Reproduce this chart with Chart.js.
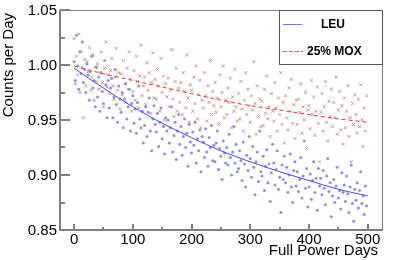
<!DOCTYPE html>
<html>
<head>
<meta charset="utf-8">
<script src="https://cdn.jsdelivr.net/npm/chart.js@4/dist/chart.umd.min.js"></script>
<style>
html,body{margin:0;padding:0;background:#fff;}
#wrap{width:399px;height:260px;}
</style>
</head>
<body>
<div id="wrap"><canvas id="c" width="399" height="260"></canvas></div>
<script>
// ---- data ----
const leuValues = [
1.003,0.986,1.027,0.999,0.978,1.012,0.992,1.021,0.984,0.996,
0.975,1.001,0.991,0.968,0.994,1.008,0.979,0.986,0.962,0.998,
0.971,0.989,0.958,0.993,0.976,0.965,1.004,0.982,0.952,0.986,
0.961,0.979,0.988,0.952,0.971,0.996,0.964,0.948,0.981,0.969,
0.957,0.975,0.943,0.969,0.983,0.951,0.962,0.978,0.940,0.965,
0.972,0.947,0.960,0.938,0.966,0.981,0.951,0.943,0.958,0.929,
0.945,0.962,0.935,0.957,0.970,0.940,0.922,0.951,0.963,0.946,
0.939,0.956,0.926,0.948,0.961,0.933,0.944,0.919,0.952,0.940,
0.950,0.929,0.943,0.962,0.921,0.936,0.948,0.914,0.940,0.955,
0.928,0.944,0.918,0.935,0.951,0.925,0.938,0.908,0.946,0.930,
0.920,0.939,0.927,0.948,0.911,0.933,0.922,0.941,0.903,0.935,
0.930,0.916,0.942,0.921,0.908,0.934,0.925,0.945,0.913,0.927,
0.912,0.929,0.940,0.905,0.924,0.917,0.896,0.931,0.920,0.911,
0.925,0.909,0.937,0.916,0.900,0.921,0.944,0.911,0.928,0.903,
0.906,0.922,0.913,0.895,0.930,0.910,0.889,0.918,0.904,0.935,
0.915,0.898,0.926,0.907,0.882,0.912,0.921,0.894,0.940,0.903,
0.899,0.917,0.886,0.908,0.923,0.893,0.910,0.876,0.902,0.928,
0.911,0.891,0.905,0.922,0.887,0.898,0.866,0.909,0.896,0.917,
0.893,0.907,0.884,0.900,0.919,0.889,0.875,0.904,0.912,0.890,
0.903,0.885,0.896,0.916,0.879,0.899,0.931,0.888,0.906,0.871,
0.889,0.901,0.878,0.895,0.912,0.884,0.897,0.868,0.906,0.890,
0.897,0.882,0.904,0.888,0.873,0.899,0.915,0.885,0.893,0.862,
0.881,0.896,0.875,0.890,0.907,0.879,0.886,0.869,0.902,0.884,
0.891,0.876,0.899,0.883,0.866,0.889,0.909,0.874,0.858,0.887,
0.877,0.893,0.870,0.886,0.903,0.874,0.881,0.864,0.890,0.872
];
const moxValues = [
1.024,0.983,1.008,0.991,1.028,0.975,1.012,0.998,0.952,1.005,
0.981,1.003,0.994,1.016,0.977,0.989,1.009,0.968,0.998,0.985,
1.001,0.978,0.993,1.012,0.984,0.962,0.997,1.021,0.980,0.991,
0.974,0.995,1.006,0.981,0.969,0.989,1.015,0.977,0.993,0.960,
0.992,0.973,1.004,0.983,0.966,0.997,0.978,1.012,0.987,0.958,
0.976,0.995,0.968,1.008,0.985,0.961,0.990,1.018,0.972,0.981,
0.989,0.964,1.002,0.977,0.993,0.956,0.984,1.011,0.970,0.987,
0.969,0.996,0.981,0.958,1.006,0.975,0.990,0.950,0.983,0.971,
0.988,0.962,0.977,1.014,0.969,0.953,0.985,0.997,0.958,0.979,
0.966,0.984,0.955,0.993,0.976,0.961,1.009,0.970,0.948,0.982,
0.977,0.958,0.989,0.965,0.999,0.951,0.973,0.986,0.943,0.968,
0.961,0.993,0.972,0.949,0.981,0.966,1.004,0.955,0.976,0.963,
0.984,0.957,0.970,0.946,0.991,0.962,0.975,0.999,0.952,0.968,
0.955,0.979,0.966,0.988,0.943,0.971,0.958,0.996,0.962,0.949,
0.974,0.951,0.985,0.960,0.940,0.968,0.993,0.955,0.978,0.963,
0.948,0.972,0.959,1.003,0.965,0.937,0.981,0.953,0.969,0.944,
0.967,0.945,0.978,0.956,0.990,0.951,0.962,0.935,0.974,0.958,
0.949,0.984,0.961,0.940,0.970,0.955,0.993,0.946,0.966,0.929,
0.972,0.952,0.941,0.979,0.958,0.987,0.947,0.964,0.933,0.968,
0.946,0.969,0.957,0.983,0.938,0.962,0.950,0.975,0.924,0.959,
0.963,0.942,0.986,0.955,0.971,0.936,0.958,0.980,0.947,0.912,
0.957,0.974,0.940,0.962,0.985,0.948,0.931,0.967,0.953,0.978,
0.944,0.966,0.952,0.989,0.937,0.959,0.976,0.941,0.963,0.928,
0.970,0.943,0.958,0.981,0.935,0.952,0.912,0.965,0.946,0.973,
0.955,0.938,0.969,0.944,0.982,0.950,0.926,0.961,0.940,0.972
];
const days = leuValues.map((_, i) => i * 2);
const fitDays = [0, 50, 100, 150, 200, 250, 300, 350, 400, 450, 500];
const leuFit = [0.997, 0.979, 0.962, 0.947, 0.934, 0.922, 0.912, 0.903, 0.895, 0.887, 0.881];
const moxFit = [0.999, 0.992, 0.986, 0.980, 0.974, 0.968, 0.963, 0.959, 0.955, 0.951, 0.948];
const xMajor = [0, 100, 200, 300, 400, 500];
const xMinor = [50, 150, 250, 350, 450];
const yMajor = [0.85, 0.90, 0.95, 1.00, 1.05];
const yMinor = [0.875, 0.925, 0.975, 1.025];
const seriesNames = ['LEU', '25% MOX'];

const pts = (xs, ys) => xs.map((x, i) => ({x, y: ys[i]}));

const axesPlugin = {
  id: 'rootAxes',
  afterDraw(chart) {
    const {ctx, chartArea: a, scales: {x, y}} = chart;
    ctx.save();
    const gray = '#7f7f7f';
    // frame
    ctx.strokeStyle = gray;
    ctx.lineWidth = 1;
    ctx.beginPath();
    ctx.moveTo(a.left, a.top + 0.5);
    ctx.lineTo(a.right - 0.5, a.top + 0.5);
    ctx.lineTo(a.right - 0.5, a.bottom);
    ctx.stroke();
    ctx.lineWidth = 2;
    ctx.beginPath();
    ctx.moveTo(a.left, a.top);
    ctx.lineTo(a.left, a.bottom);
    ctx.lineTo(a.right, a.bottom);
    ctx.stroke();
    // ticks
    ctx.lineWidth = 2;
    ctx.beginPath();
    yMajor.forEach(v => { const py = Math.round(y.getPixelForValue(v)); ctx.moveTo(a.left, py); ctx.lineTo(a.left + 10, py); });
    yMinor.forEach(v => { const py = Math.round(y.getPixelForValue(v)); ctx.moveTo(a.left, py); ctx.lineTo(a.left + 5, py); });
    xMajor.forEach(v => { const px = Math.round(x.getPixelForValue(v)); ctx.moveTo(px, a.bottom); ctx.lineTo(px, a.bottom - 6); });
    xMinor.forEach(v => { const px = Math.round(x.getPixelForValue(v)); ctx.moveTo(px, a.bottom); ctx.lineTo(px, a.bottom - 3); });
    ctx.stroke();
    // labels
    ctx.fillStyle = '#000';
    ctx.font = '15px "Liberation Sans", Arial, sans-serif';
    ctx.textAlign = 'right';
    ctx.textBaseline = 'middle';
    yMajor.forEach(v => ctx.fillText(v.toFixed(2), a.left - 3, y.getPixelForValue(v) + 1));
    ctx.textAlign = 'center';
    xMajor.forEach(v => ctx.fillText(String(v), x.getPixelForValue(v), a.bottom + 10));
    ctx.textAlign = 'right';
    ctx.textBaseline = 'alphabetic';
    ctx.fillText('Full Power Days', a.right - 5, 255);
    ctx.save();
    ctx.translate(13, 13);
    ctx.rotate(-Math.PI / 2);
    ctx.textAlign = 'right';
    ctx.fillText('Counts per Day', 0, 0);
    ctx.restore();
    // legend
    const lx = 279, ly = a.top, lw = a.right - lx, lh = 64 - a.top;
    ctx.fillStyle = '#fff';
    ctx.fillRect(lx, ly, lw, lh);
    ctx.strokeStyle = '#555';
    ctx.lineWidth = 1;
    ctx.strokeRect(lx + 0.5, ly + 0.5, lw - 1, lh);
    ctx.strokeStyle = 'rgb(110,110,255)';
    ctx.beginPath(); ctx.moveTo(283, 24.5); ctx.lineTo(302, 24.5); ctx.stroke();
    ctx.strokeStyle = 'rgb(255,90,90)';
    ctx.setLineDash([4, 2]);
    ctx.beginPath(); ctx.moveTo(283, 51.5); ctx.lineTo(303, 51.5); ctx.stroke();
    ctx.setLineDash([]);
    ctx.fillStyle = '#000';
    ctx.font = 'bold 12px "Liberation Sans", Arial, sans-serif';
    ctx.textAlign = 'center';
    ctx.textBaseline = 'middle';
    ctx.fillText(seriesNames[0], 333, 25);
    ctx.textAlign = 'left';
    ctx.fillText(seriesNames[1], 307, 52);
    ctx.restore();
  }
};

new Chart(document.getElementById('c'), {
  type: 'scatter',
  data: {
    datasets: [
      {label: seriesNames[0], data: pts(days, leuValues), pointStyle: 'circle', pointRadius: 1.5,
       backgroundColor: 'rgba(125,125,215,0.85)', borderColor: 'rgba(125,125,215,0.85)', borderWidth: 0, order: 4},
      {label: seriesNames[1], data: pts(days, moxValues), pointStyle: 'crossRot', pointRadius: 2.2,
       borderColor: 'rgba(190,125,125,0.8)', borderWidth: 1, order: 3},
      {label: 'LEU fit', data: pts(fitDays, leuFit), showLine: true, pointRadius: 0, borderColor: 'rgb(70,70,255)',
       borderWidth: 1, cubicInterpolationMode: 'monotone', order: 2},
      {label: 'MOX fit', data: pts(fitDays, moxFit), showLine: true, pointRadius: 0, borderColor: 'rgb(255,50,50)',
       borderWidth: 1, borderDash: [4, 3], cubicInterpolationMode: 'monotone', order: 1}
    ]
  },
  options: {
    responsive: false,
    animation: false,
    layout: {padding: {left: 60, right: 16, top: 10, bottom: 30}},
    plugins: {legend: {display: false}, tooltip: {enabled: false}},
    scales: {
      x: {type: 'linear', min: -24, max: 526, display: false},
      y: {type: 'linear', min: 0.85, max: 1.05, display: false}
    }
  },
  plugins: [axesPlugin]
});
</script>
</body>
</html>
